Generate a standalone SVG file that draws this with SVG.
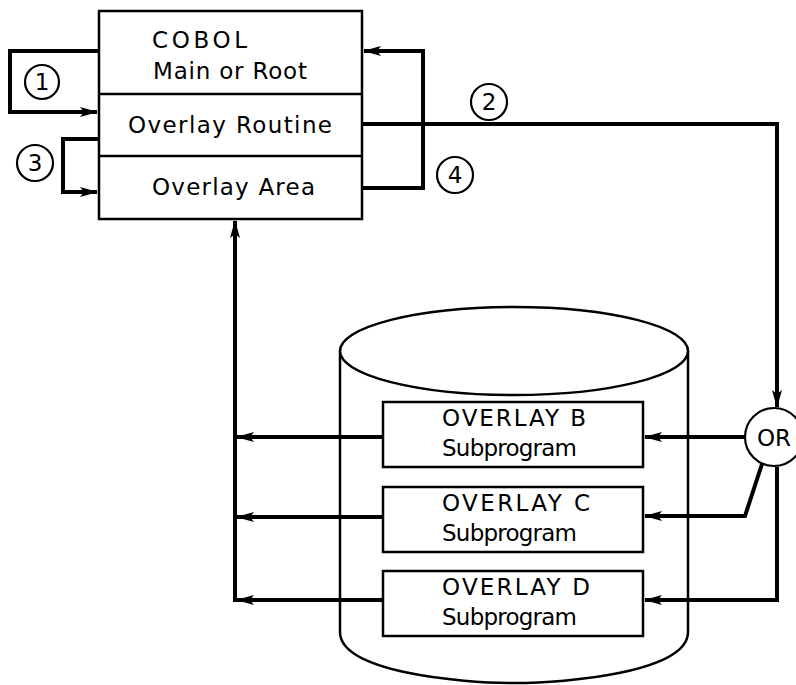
<svg xmlns="http://www.w3.org/2000/svg" width="796" height="685" viewBox="0 0 796 685">
<style>
.box{fill:#fff;stroke:#000;stroke-width:2.5}
.div{stroke:#000;stroke-width:2.5;fill:none}
.con{fill:none;stroke:#000;stroke-width:4;stroke-linejoin:miter}
.lbl{font-family:"DejaVu Sans","Liberation Sans",sans-serif;font-size:23px;fill:#000}
.num{font-family:"DejaVu Sans","Liberation Sans",sans-serif;font-size:23px;fill:#000;text-anchor:middle}
.circ{fill:#fff;stroke:#000;stroke-width:2.2}
.cyl{fill:#fff;stroke:#000;stroke-width:2.5}
</style>
<defs>
<marker id="ah" markerUnits="userSpaceOnUse" markerWidth="18" markerHeight="10" refX="17" refY="5" orient="auto">
<path d="M0,0 L18,5 L0,10 L4,5 z" fill="#000"/>
</marker>
</defs>
<rect width="796" height="685" fill="#fff"/>

<g id="disk">
<path class="cyl" d="M340,351 L340,632 C340,672 460,683 514,683 C568,683 688,672 688,632 L688,351"/>
<ellipse class="cyl" cx="514" cy="351" rx="174" ry="44"/>
</g>

<g id="connectors">
<path class="con" d="M99,51 H10 V112 H97" marker-end="url(#ah)"/>
<path class="con" d="M99,139 H63 V192 H97" marker-end="url(#ah)"/>
<path class="con" d="M362,188 H423 V51 H364" marker-end="url(#ah)"/>
<path class="con" d="M362,124 H777 V407" marker-end="url(#ah)"/>
<path class="con" d="M235,602 V221" marker-end="url(#ah)"/>
<path class="con" d="M383,437 H237" marker-end="url(#ah)"/>
<path class="con" d="M383,517 H237" marker-end="url(#ah)"/>
<path class="con" d="M383,600 H237" marker-end="url(#ah)"/>
<path class="con" d="M744,437 H645" marker-end="url(#ah)"/>
<path class="con" d="M762,464 L745,516 H645" marker-end="url(#ah)"/>
<path class="con" d="M777,467 V600 H645" marker-end="url(#ah)"/>
</g>

<g id="main">
<rect class="box" x="99" y="11" width="263" height="208"/>
<line class="div" x1="99" y1="94" x2="362" y2="94"/>
<line class="div" x1="99" y1="156" x2="362" y2="156"/>
<text class="lbl" x="152" y="48" textLength="95" lengthAdjust="spacing">COBOL</text>
<text class="lbl" x="153" y="79" textLength="154" lengthAdjust="spacing">Main or Root</text>
<text class="lbl" x="128" y="133" textLength="204" lengthAdjust="spacing">Overlay Routine</text>
<text class="lbl" x="152" y="195" textLength="163" lengthAdjust="spacing">Overlay Area</text>
</g>

<g id="overlayB">
<rect class="box" x="383" y="402" width="260" height="65"/>
<text class="lbl" x="442" y="426" textLength="144" lengthAdjust="spacing">OVERLAY B</text>
<text class="lbl" x="442" y="456" textLength="135" lengthAdjust="spacing">Subprogram</text>
</g>
<g id="overlayC">
<rect class="box" x="383" y="487" width="260" height="65"/>
<text class="lbl" x="442" y="511" textLength="148" lengthAdjust="spacing">OVERLAY C</text>
<text class="lbl" x="442" y="541" textLength="135" lengthAdjust="spacing">Subprogram</text>
</g>
<g id="overlayD">
<rect class="box" x="383" y="571" width="260" height="65"/>
<text class="lbl" x="442" y="595" textLength="148" lengthAdjust="spacing">OVERLAY D</text>
<text class="lbl" x="442" y="625" textLength="135" lengthAdjust="spacing">Subprogram</text>
</g>

<g id="or">
<circle class="circ" cx="774" cy="437" r="29"/>
<text class="num" x="774" y="446" font-size="24">OR</text>
</g>

<g id="step1"><circle class="circ" cx="42" cy="82" r="17"/><text class="num" x="42" y="90">1</text></g>
<g id="step2"><circle class="circ" cx="489" cy="102" r="18"/><text class="num" x="489" y="110">2</text></g>
<g id="step3"><circle class="circ" cx="35" cy="163" r="18"/><text class="num" x="35" y="171">3</text></g>
<g id="step4"><circle class="circ" cx="455" cy="175" r="18"/><text class="num" x="455" y="183">4</text></g>
</svg>
